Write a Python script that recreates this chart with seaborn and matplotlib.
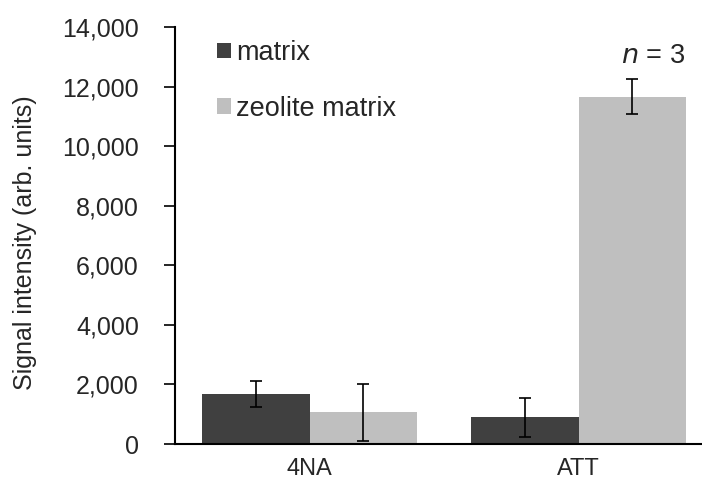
import matplotlib
matplotlib.use("Agg")
import matplotlib.pyplot as plt
import seaborn as sns
import pandas as pd
from matplotlib.ticker import FuncFormatter, MultipleLocator

categories = ["4NA", "ATT"]
series = ["matrix", "zeolite matrix"]
matrix_vals = [1690, 895]
zeolite_vals = [1060, 11660]
matrix_err = [440, 655]
zeolite_err = [960, 590]
colors = ["#404040", "#BFBFBF"]

df = pd.DataFrame({
    "cat": categories * 2,
    "series": [series[0]] * 2 + [series[1]] * 2,
    "value": matrix_vals + zeolite_vals,
})

sns.set_theme(style="white")
plt.rcParams["font.family"] = ["Liberation Sans", "DejaVu Sans"]

fig = plt.figure(figsize=(7.02, 4.83), dpi=100)
ax = fig.add_axes([175 / 702, 39 / 483, 538 / 702, 417 / 483])

sns.barplot(data=df, x="cat", y="value", hue="series", order=categories,
            hue_order=series, palette=colors, errorbar=None, width=0.8,
            saturation=1, ax=ax, legend=True, linewidth=0)

errs = [matrix_err, zeolite_err]
vals = [matrix_vals, zeolite_vals]
for cont, e, v in zip(ax.containers, errs, vals):
    xs = [p.get_x() + p.get_width() / 2 for p in cont.patches]
    ax.errorbar(xs, v, yerr=e, fmt="none", ecolor="black", elinewidth=1.2,
                capsize=4, capthick=1.2)

ax.set_xlim(-0.5, 1.5)
ax.set_ylim(0, 14000)
ax.yaxis.set_major_locator(MultipleLocator(2000))
ax.yaxis.set_major_formatter(FuncFormatter(lambda v, p: f"{int(v):,}"))
ax.set_xticks([0, 1])
ax.set_xticklabels(categories)
ax.set_xticks([-0.5, 0.5, 1.5], minor=True)
ax.tick_params(axis="x", which="major", length=0, labelsize=17, pad=10)
ax.tick_params(axis="x", which="minor", length=5, width=1.2, direction="out", color="black")
ax.tick_params(axis="y", length=8, width=1.2, direction="out", labelsize=18,
               color="black", pad=18, left=True)
ax.set_xlabel("")
ax.set_ylabel("Signal intensity (arb. units)", fontsize=18)
ax.yaxis.set_label_coords((37 - 175) / 538, (444 - 242.5) / 417)

for s in ["top", "right"]:
    ax.spines[s].set_visible(False)
for s in ["left", "bottom"]:
    ax.spines[s].set_color("black")
    ax.spines[s].set_linewidth(1.5)

handles, labels = ax.get_legend_handles_labels()
ax.legend(handles, labels, loc="upper left", bbox_to_anchor=(217 / 702, 1 - 40 / 483),
          bbox_transform=fig.transFigure, frameon=False, fontsize=19.5,
          handlelength=0.52, handleheight=0.52, handletextpad=0.2,
          labelspacing=1.1, borderpad=0, borderaxespad=0)

fig.text(685 / 702, 1 - 56 / 483, r"$\it{n}$ = 3", ha="right", va="center", fontsize=19.5)

fig.savefig("out.png", dpi=100)
